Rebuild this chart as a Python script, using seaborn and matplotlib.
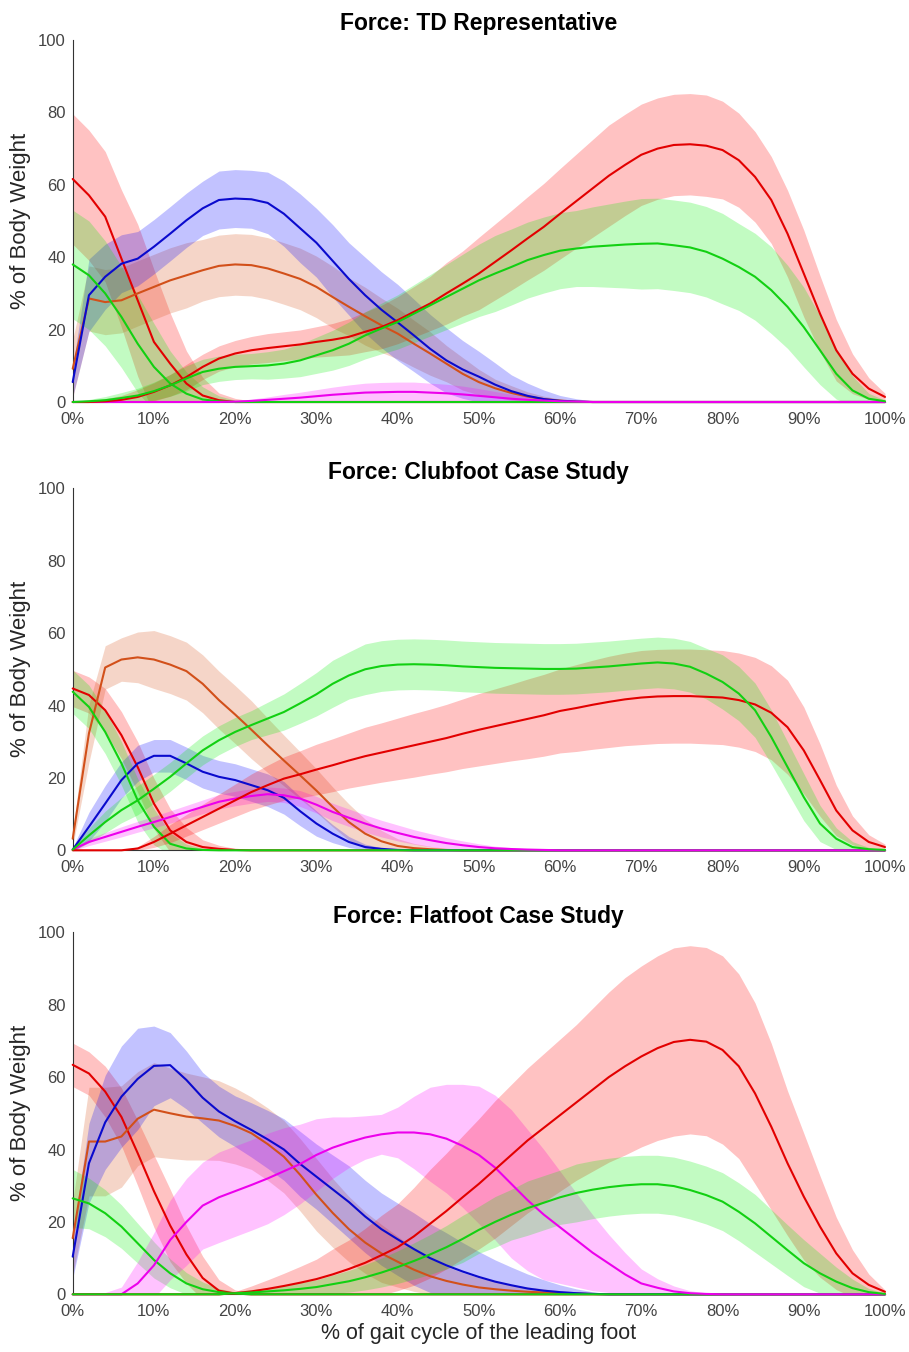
import numpy as np
import matplotlib
matplotlib.use("Agg")
import matplotlib.pyplot as plt
import seaborn as sns

# ---------------- data ----------------
GAIT = [0, 2, 4, 6, 8, 10, 12, 14, 16, 18, 20, 22, 24, 26, 28, 30, 32, 34, 36, 38,
        40, 42, 44, 46, 48, 50, 52, 54, 56, 58, 60, 62, 64, 66, 68, 70, 72, 74, 76, 78,
        80, 82, 84, 86, 88, 90, 92, 94, 96, 98, 100]
X_TICKS = [0, 10, 20, 30, 40, 50, 60, 70, 80, 90, 100]
X_TICK_LABELS = ["0%", "10%", "20%", "30%", "40%", "50%", "60%", "70%", "80%", "90%", "100%"]
Y_TICKS = [0, 20, 40, 60, 80, 100]
TITLES = ["Force: TD Representative", "Force: Clubfoot Case Study", "Force: Flatfoot Case Study"]
Y_LABEL = "% of Body Weight"
X_LABEL = "% of gait cycle of the leading foot"

# ---- Panel 1: TD Representative ----
TD_RED1_MEAN = [61.6, 57.1, 51.2, 39.6, 28.1, 16.6, 10.6, 5.1, 1.8, 0.5] + [0] * 41
TD_RED1_SD = [18, 18, 18, 19, 21, 20, 14, 9, 5, 2, 1, 0.3] + [0] * 39
TD_ORANGE_MEAN = [9.2, 28.6, 27.6, 28.1, 30, 31.8, 33.6, 35, 36.4, 37.6,
                  38, 37.8, 36.9, 35.5, 34, 31.8, 29, 26.3, 23.7, 21.2,
                  18.9, 16.1, 13.4, 10.6, 7.8, 5.5, 3.8, 2.5, 1.5, 0.8,
                  0.4, 0.1] + [0] * 19
TD_ORANGE_SD = [8, 9, 9, 9, 9, 9, 9, 9, 8.5, 8.5,
                8.5, 8.5, 8.5, 8.5, 8.5, 8.5, 8.5, 8, 8, 7.5,
                7, 6.5, 6, 5, 4.5, 3.5, 2.5, 2, 1.3, 0.8,
                0.4, 0.2] + [0] * 19
TD_BLUE_MEAN = [5.5, 29.5, 34.6, 38.2, 39.6, 42.9, 46.5, 50.2, 53.5, 55.8,
                56.2, 56, 55, 52, 48, 44, 39, 34, 29.5, 25.5,
                22, 18.4, 14.7, 11.5, 9, 7, 4.8, 3, 1.7, 0.8,
                0.3, 0.1] + [0] * 19
TD_BLUE_SD = [4, 10, 9, 8, 7.5, 7.5, 7.5, 7.5, 7.5, 8,
              8, 8, 8.5, 9, 9.5, 9.5, 10, 10, 10.5, 10.5,
              10.5, 10, 9.5, 9, 8, 7, 6, 4.5, 3.5, 2.5,
              1.5, 0.8, 0.3] + [0] * 18
TD_GREEN1_MEAN = [38, 35, 30, 23.5, 16.1, 9.7, 5.1, 2.3, 0.7, 0.2] + [0] * 41
TD_GREEN1_SD = [15, 15, 14.5, 14, 13.5, 12, 9, 6, 3.5, 1.5, 0.5] + [0] * 40
TD_MAGENTA_MEAN = [0] * 10 + [0.1, 0.3, 0.6, 0.9, 1.2, 1.6, 2, 2.3, 2.6, 2.7,
                              2.8, 2.8, 2.6, 2.4, 2.1, 1.7, 1.3, 0.9, 0.6, 0.4,
                              0.2, 0.1] + [0] * 19
TD_MAGENTA_SD = [0] * 10 + [0.2, 0.5, 0.8, 1.2, 1.5, 1.8, 2.1, 2.4, 2.6, 2.7,
                            2.7, 2.7, 2.6, 2.5, 2.3, 2, 1.6, 1.2, 0.8, 0.5,
                            0.3, 0.1] + [0] * 19
TD_RED2_MEAN = [0, 0, 0.2, 0.6, 1.4, 2.8, 4.6, 6.9, 9.7, 12,
                13.4, 14.3, 14.9, 15.4, 15.9, 16.6, 17.2, 18, 19.4, 20.7,
                22.6, 24.9, 27.2, 30, 32.7, 35.5, 38.7, 41.9, 45.2, 48.4,
                52, 55.5, 59, 62.5, 65.5, 68.3, 70, 71, 71.2, 70.8,
                69.6, 66.8, 62.2, 55.8, 46.5, 35.5, 24.4, 14.3, 7.8, 3.7, 1.4]
TD_RED2_SD = [0, 0.3, 0.7, 1.2, 2, 2.5, 3, 3.5, 3.5, 3.5,
              3.6, 3.8, 4, 4, 4, 4.2, 4.5, 5, 5.5, 6,
              6.5, 7, 7.5, 8.5, 9, 10, 10.5, 11, 11.5, 12,
              12.5, 13, 13.5, 14, 14, 14, 14, 14, 14, 14,
              13.5, 13, 12.5, 12, 12, 12, 10.5, 8.5, 5.5, 3, 1]
TD_GREEN2_MEAN = [0, 0.2, 0.5, 1.1, 1.8, 3, 4.6, 6.5, 8.3, 9.2,
                  9.7, 9.9, 10.1, 10.6, 11.5, 12.9, 14.3, 16.1, 18.4, 20.3,
                  22.1, 24.4, 26.7, 29, 31.3, 33.6, 35.5, 37.3, 39.2, 40.6,
                  41.8, 42.4, 42.9, 43.2, 43.5, 43.7, 43.8, 43.3, 42.7, 41.5,
                  39.6, 37.3, 34.6, 30.9, 26.3, 20.7, 14.3, 7.8, 3.2, 0.9, 0.2]
TD_GREEN2_SD = [0, 0.5, 1, 1.5, 2, 2.5, 3, 3.5, 3.5, 3.5,
                3.5, 3.5, 3.8, 4, 4.5, 5, 5.5, 6, 6.5, 7,
                7.5, 8, 8.5, 9, 9.5, 10, 10.5, 10.5, 10.5, 10.5,
                10.5, 10.5, 11, 11.5, 12, 12.5, 12.5, 12.5, 12.5, 12.5,
                12.5, 12, 12, 12, 11.5, 11, 9.5, 7, 4, 1.5, 0.3]

# ---- Panel 2: Clubfoot ----
CF_RED1_MEAN = [44.7, 42.9, 38.7, 31.8, 23, 12.9, 5.5, 2.3, 0.9, 0.4, 0.1] + [0] * 40
CF_RED1_SD = [5, 5, 6, 6.5, 7, 7, 6, 4, 2, 1, 0.4] + [0] * 40
CF_ORANGE_MEAN = [3.2, 32.3, 50.5, 52.7, 53.3, 52.7, 51.3, 49.5, 46, 41.5,
                  37.5, 33.3, 29, 24.8, 20.7, 16.5, 12, 7.8, 4.6, 2.5,
                  1.2, 0.6, 0.3, 0.1] + [0] * 27
CF_ORANGE_SD = [2, 8, 6, 6, 7, 8, 8, 8, 8, 8,
                8, 8, 7.5, 7, 6.5, 6, 5.5, 5, 4, 3,
                2, 1.3, 0.8, 0.4, 0.2] + [0] * 26
CF_BLUE_MEAN = [0.2, 6.5, 12.9, 19.4, 24, 26.1, 26.1, 24, 21.7, 20.3,
                19.4, 18, 16.6, 14.5, 10.8, 7.4, 4.6, 2.3, 0.9, 0.4, 0.1] + [0] * 30
CF_BLUE_SD = [0.5, 4, 5, 5, 5, 4.5, 4.5, 4.5, 4.5, 4.5,
              4.5, 4.5, 4.5, 4.5, 4, 3.5, 2.5, 1.5, 0.8, 0.3, 0.1] + [0] * 30
CF_GREEN1_MEAN = [43.8, 39.6, 32.7, 24, 13.8, 6.5, 1.8, 0.5, 0.1] + [0] * 42
CF_GREEN1_SD = [6, 6, 6, 6, 6, 5, 3, 1.2, 0.4] + [0] * 42
CF_MAGENTA_MEAN = [0.2, 2.3, 3.7, 5.1, 6.5, 7.8, 9.2, 10.6, 12, 13.4,
                   14.3, 15, 15.5, 15.2, 14.3, 12.6, 10.6, 9, 7.4, 6,
                   4.8, 3.7, 2.8, 2, 1.4, 0.9, 0.55, 0.35, 0.2, 0.1] + [0] * 21
CF_MAGENTA_SD = [0.3, 1, 1.2, 1.4, 1.5, 1.6, 1.7, 1.8, 1.9, 2,
                 2, 2, 2, 2, 2.2, 2.3, 2.4, 2.4, 2.4, 2.3,
                 2.2, 2, 1.8, 1.5, 1.2, 0.9, 0.6, 0.4, 0.2, 0.1] + [0] * 21
CF_RED2_MEAN = [0, 0, 0, 0, 0.5, 2.3, 4.6, 6.9, 9.2, 11.5,
                13.8, 16.1, 18, 19.8, 21, 22.3, 23.5, 24.8, 26, 27,
                28, 29, 30, 31, 32.2, 33.3, 34.3, 35.3, 36.3, 37.3,
                38.5, 39.3, 40.2, 41, 41.7, 42.2, 42.5, 42.6, 42.6, 42.4,
                42.2, 41.5, 40.3, 38, 34, 27.6, 19.4, 11, 5.5, 2.3, 0.9]
CF_RED2_SD = [0, 0, 0, 0, 0.5, 1.5, 2.5, 3, 3.5, 4,
              4.5, 5, 5.5, 6, 6.5, 7, 7.3, 7.6, 8, 8.2,
              8.5, 8.8, 9, 9.3, 9.6, 10, 10.3, 10.6, 11, 11.3,
              11.6, 12, 12.3, 12.6, 12.8, 13, 13, 13, 13, 13,
              13, 13, 13, 13, 13, 12, 10, 7, 4, 2, 0.8]
CF_GREEN2_MEAN = [0.2, 4.1, 7.8, 11.1, 13.8, 17, 20.3, 24, 27.6, 30.4,
                  32.7, 34.6, 36.4, 38.2, 40.6, 43.1, 46, 48.3, 50, 50.9,
                  51.3, 51.4, 51.3, 51.1, 50.8, 50.6, 50.4, 50.3, 50.2, 50.1,
                  50.1, 50.2, 50.5, 50.8, 51.2, 51.6, 51.9, 51.6, 50.7, 48.8,
                  46.5, 43.3, 38.7, 31.3, 23, 14.7, 7.4, 3.2, 0.9, 0.3, 0.1]
CF_GREEN2_SD = [0.5, 2, 3, 3.5, 4, 4, 4, 4, 4, 4,
                4, 4, 4.5, 5, 5.5, 6, 6.5, 6.5, 7, 7,
                7, 7, 7, 7, 7, 7, 7, 7, 7, 7,
                7, 7, 7, 7, 7, 7, 7, 7, 7, 7,
                7.5, 7.5, 7.5, 7.5, 7, 6.5, 5, 3, 1.5, 0.5, 0]

# ---- Panel 3: Flatfoot ----
FF_RED1_MEAN = [63.4, 61, 56, 49, 39, 28.5, 19, 11, 4.5, 1, 0.2] + [0] * 40
FF_RED1_SD = [6, 6, 7, 8, 9, 10, 10, 8, 6, 3, 1, 0.3] + [0] * 39
FF_ORANGE_MEAN = [15.5, 42.2, 42.2, 43.6, 48.5, 51, 50, 49.1, 48.6, 48,
                  46.5, 44.5, 41.5, 38, 33, 27.5, 22.5, 18, 14.3, 11.3,
                  9, 6.8, 5, 3.7, 2.7, 1.9, 1.4, 1, 0.7, 0.5,
                  0.3, 0.2, 0.1] + [0] * 18
FF_ORANGE_SD = [10, 15, 15, 14, 13, 13, 12.5, 12, 11.5, 11,
                10.5, 10, 10, 10, 10, 10, 9.5, 9, 8.5, 8,
                7, 6, 5, 4, 3.3, 2.7, 2.2, 1.7, 1.3, 1,
                0.7, 0.5, 0.3, 0.1] + [0] * 17
FF_BLUE_MEAN = [10.4, 36.2, 47.5, 54.6, 59.5, 63.1, 63.3, 59.2, 54.3, 50.5,
                47.8, 45.4, 42.8, 40, 36, 32.5, 29, 25.5, 21.5, 18,
                15.2, 12.5, 10, 8, 6.3, 4.8, 3.5, 2.5, 1.6, 1,
                0.6, 0.3, 0.1] + [0] * 18
FF_BLUE_SD = [6, 11, 13, 14, 14, 11, 9, 8, 7, 7,
              7, 7.5, 8, 8.5, 9, 9, 9.5, 10, 10, 10,
              10, 10, 9.5, 9, 8, 7, 6, 5, 4, 3,
              2, 1.2, 0.6, 0.2] + [0] * 17
FF_GREEN1_MEAN = [26.5, 25.1, 22.4, 18.7, 14.1, 9.5, 5.8, 3, 1.4, 0.6, 0.2] + [0] * 40
FF_GREEN1_SD = [8, 7, 6.5, 6, 5.5, 5, 4, 3, 2, 1, 0.5, 0.2] + [0] * 39
FF_MAGENTA_MEAN = [0, 0, 0, 0, 3, 8, 15, 20, 24.5, 26.8,
                   28.5, 30.2, 32, 34, 36, 38.5, 40.5, 42, 43.3, 44.2,
                   44.7, 44.7, 44.2, 43, 41, 38.5, 35, 30.5, 26, 22,
                   18.5, 15, 11.5, 8.5, 5.5, 3, 1.8, 0.8, 0.3, 0.1] + [0] * 11
FF_MAGENTA_SD = [0, 0, 0.5, 2, 6, 9, 11, 12, 12, 12.5,
                 12.5, 12.5, 12.5, 12, 11, 10, 8.5, 7, 6, 5.5,
                 7, 10, 13, 15, 17, 19, 20, 20.5, 19.5, 18,
                 15.5, 13, 10.5, 8, 6, 4, 2.5, 1.5, 0.7, 0.3, 0.1] + [0] * 10
FF_RED2_MEAN = [0] * 10 + [0.3, 0.8, 1.5, 2.3, 3.2, 4.2, 5.5, 7, 8.7, 10.8,
                           13, 16, 19.5, 23, 26.8, 30.5, 34.5, 38.5, 42.5, 46,
                           49.5, 53, 56.5, 60, 63, 65.7, 68, 69.7, 70.3, 69.8,
                           67.5, 63, 55.5, 46.3, 36.2, 27, 18.7, 11.3, 5.8, 2.6, 0.7]
FF_RED2_SD = [0] * 10 + [0.5, 1.5, 2.5, 3.5, 4.5, 5.5, 7, 8, 9.5, 11,
                         12, 13.5, 15, 16, 17, 18, 19, 19.5, 20, 20.5,
                         21, 21.5, 22.5, 23.5, 24.5, 25, 25.5, 26, 26, 26,
                         26, 25.5, 25, 23, 20, 17.5, 14, 10, 6.5, 3, 0.5]
FF_GREEN2_MEAN = [0] * 10 + [0.3, 0.5, 0.8, 1.1, 1.5, 2, 2.8, 3.6, 4.7, 6,
                             7.5, 9.2, 11, 13, 15.3, 17.8, 20, 22, 23.8, 25.3,
                             26.8, 28, 28.9, 29.6, 30.1, 30.4, 30.4, 29.9, 28.8, 27.4,
                             25.6, 22.8, 19.6, 15.9, 12.2, 8.6, 5.8, 3.5, 1.7, 0.6, 0.1]
FF_GREEN2_SD = [0] * 10 + [0.5, 0.8, 1, 1.3, 1.7, 2, 2.5, 3, 3.5, 4,
                           4.5, 5, 5.5, 6, 6.5, 6.5, 7, 7, 7.5, 7.5,
                           7.5, 8, 8, 8, 8, 8, 8, 8, 8, 8,
                           8, 8, 8, 7.5, 7, 6.5, 5.5, 4, 2.5, 1, 0.2]

LINE_COLORS = {"red": "#E20000", "orange": "#D2501A", "blue": "#0A0ACD",
               "green": "#12D012", "magenta": "#EC00EC"}
BAND_COLORS = {"red": "#FF0000", "orange": "#D95319", "blue": "#0000FF",
               "green": "#00F000", "magenta": "#FF00FF"}

PANELS = [
    [("red", TD_RED1_MEAN, TD_RED1_SD), ("orange", TD_ORANGE_MEAN, TD_ORANGE_SD),
     ("blue", TD_BLUE_MEAN, TD_BLUE_SD), ("green", TD_GREEN1_MEAN, TD_GREEN1_SD),
     ("magenta", TD_MAGENTA_MEAN, TD_MAGENTA_SD), ("red", TD_RED2_MEAN, TD_RED2_SD),
     ("green", TD_GREEN2_MEAN, TD_GREEN2_SD)],
    [("red", CF_RED1_MEAN, CF_RED1_SD), ("orange", CF_ORANGE_MEAN, CF_ORANGE_SD),
     ("blue", CF_BLUE_MEAN, CF_BLUE_SD), ("green", CF_GREEN1_MEAN, CF_GREEN1_SD),
     ("magenta", CF_MAGENTA_MEAN, CF_MAGENTA_SD), ("red", CF_RED2_MEAN, CF_RED2_SD),
     ("green", CF_GREEN2_MEAN, CF_GREEN2_SD)],
    [("red", FF_RED1_MEAN, FF_RED1_SD), ("orange", FF_ORANGE_MEAN, FF_ORANGE_SD),
     ("blue", FF_BLUE_MEAN, FF_BLUE_SD), ("green", FF_GREEN1_MEAN, FF_GREEN1_SD),
     ("magenta", FF_MAGENTA_MEAN, FF_MAGENTA_SD), ("red", FF_RED2_MEAN, FF_RED2_SD),
     ("green", FF_GREEN2_MEAN, FF_GREEN2_SD)],
]

# ---------------- style ----------------
sns.set_theme(style="white")
plt.rcParams['font.family'] = ['Liberation Sans', 'DejaVu Sans']

W, H = 909, 1352
fig = plt.figure(figsize=(W / 100, H / 100), dpi=100)
AX_LEFT_PX, AX_RIGHT_PX = 72.7, 885.0
AX_TOPS_PX = [40.0, 488.3, 932.3]
AX_H_PX = 362.0

for i, (title, series) in enumerate(zip(TITLES, PANELS)):
    top = AX_TOPS_PX[i]
    ax = fig.add_axes([AX_LEFT_PX / W, 1 - (top + AX_H_PX) / H,
                       (AX_RIGHT_PX - AX_LEFT_PX) / W, AX_H_PX / H])
    for cname, mean, sd in series:
        m = np.asarray(mean, float)
        s = np.asarray(sd, float)
        ax.fill_between(GAIT, m - s, m + s, color=BAND_COLORS[cname],
                        alpha=0.24, linewidth=0, zorder=1)
    for cname, mean, sd in series:
        sns.lineplot(x=GAIT, y=mean, color=LINE_COLORS[cname], linewidth=1.5,
                     ax=ax, zorder=3, clip_on=False, legend=False)
    ax.set_xlim(0, 100)
    ax.set_ylim(0, 100)
    ax.set_xticks(X_TICKS)
    ax.set_xticklabels(X_TICK_LABELS)
    ax.set_yticks(Y_TICKS)
    ax.tick_params(direction='in', length=5, width=0.8, color='#333333',
                   labelcolor='#444444', labelsize=12)
    ax.tick_params(axis='x', pad=7)
    ax.tick_params(axis='y', pad=5)
    for side in ['top', 'right']:
        ax.spines[side].set_visible(False)
    for side in ['left', 'bottom']:
        ax.spines[side].set_color('#333333')
        ax.spines[side].set_linewidth(0.8)
    ax.set_title(title, fontsize=16.5, fontweight='bold', color='black', pad=7)
    ax.set_ylabel(Y_LABEL, fontsize=16, color='#262626', labelpad=5)
    ax.set_xlabel("")
    if i == 2:
        ax.set_xlabel(X_LABEL, fontsize=15.5, color='#262626', labelpad=3)

fig.savefig("out.png", dpi=100)
